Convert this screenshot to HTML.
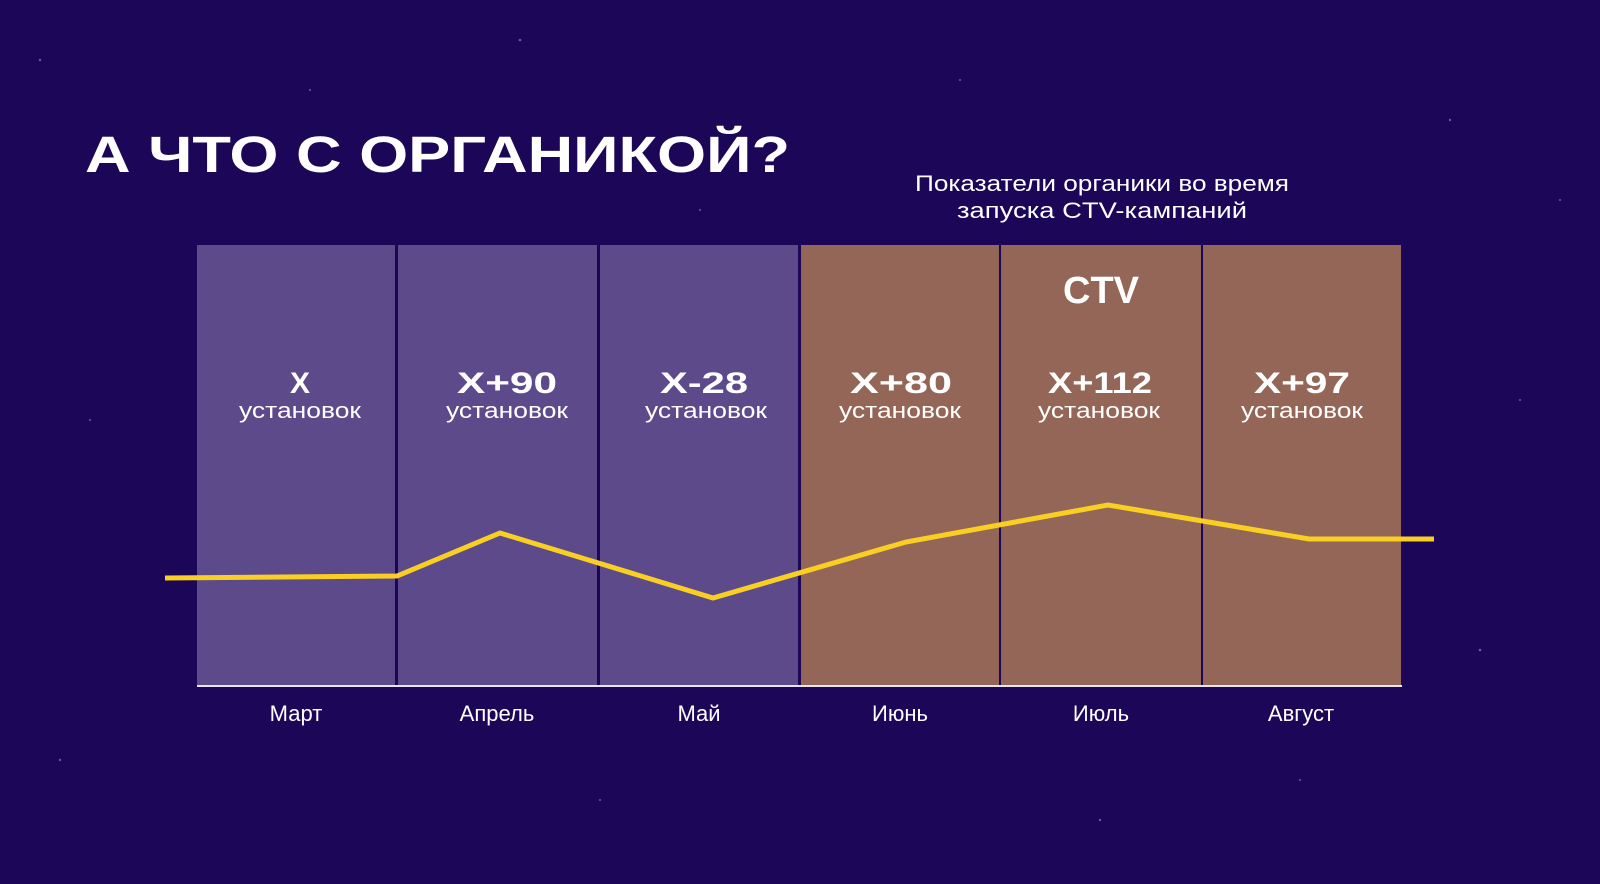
<!DOCTYPE html>
<html><head><meta charset="utf-8"><style>
html,body{margin:0;padding:0;background:#1b0657;}
svg{display:block}
text{font-family:"Liberation Sans","DejaVu Sans",sans-serif;fill:#fff}
</style></head><body>
<svg width="1600" height="884" viewBox="0 0 1600 884" xmlns="http://www.w3.org/2000/svg">
<rect width="1600" height="884" fill="#1b0657"/>
<g fill="#ffffff" opacity="0.35">
<circle cx="40" cy="60" r="1.2"/><circle cx="310" cy="90" r="1"/><circle cx="520" cy="40" r="1.3"/><circle cx="700" cy="210" r="1"/><circle cx="1450" cy="120" r="1.2"/><circle cx="1520" cy="400" r="1"/><circle cx="1480" cy="650" r="1.3"/><circle cx="90" cy="420" r="1"/><circle cx="60" cy="760" r="1.2"/><circle cx="600" cy="800" r="1"/><circle cx="1100" cy="820" r="1.2"/><circle cx="1560" cy="200" r="1"/><circle cx="260" cy="310" r="1.5"/><circle cx="520" cy="520" r="1.3"/><circle cx="960" cy="80" r="1"/><circle cx="1300" cy="780" r="1"/>
</g>
<text x="85" y="172" font-size="51" font-weight="bold" textLength="705" lengthAdjust="spacingAndGlyphs">А ЧТО С ОРГАНИКОЙ?</text>
<text x="1102" y="191" font-size="22" text-anchor="middle" textLength="374" lengthAdjust="spacingAndGlyphs">Показатели органики во время</text>
<text x="1102" y="218" font-size="22" text-anchor="middle" textLength="290" lengthAdjust="spacingAndGlyphs">запуска  CTV-кампаний</text>
<rect x="197" y="245" width="198" height="441" fill="#5c4a8a"/>
<rect x="398" y="245" width="199" height="441" fill="#5c4a8a"/>
<rect x="600" y="245" width="198" height="441" fill="#5c4a8a"/>
<rect x="801" y="245" width="198" height="441" fill="#946657"/>
<rect x="1001" y="245" width="200" height="441" fill="#946657"/>
<rect x="1203" y="245" width="198" height="441" fill="#946657"/>
<rect x="197" y="685" width="1205" height="2" fill="#e8e4f0"/>
<text x="1101" y="303" font-size="38" font-weight="bold" text-anchor="middle" textLength="76" lengthAdjust="spacingAndGlyphs">CTV</text>
<g font-size="30" font-weight="bold" text-anchor="middle">
<text x="300" y="393">X</text>
<text x="507" y="393" textLength="100" lengthAdjust="spacingAndGlyphs">X+90</text>
<text x="704" y="393" textLength="88" lengthAdjust="spacingAndGlyphs">X-28</text>
<text x="901" y="393" textLength="102" lengthAdjust="spacingAndGlyphs">X+80</text>
<text x="1100" y="393" textLength="104" lengthAdjust="spacingAndGlyphs">X+112</text>
<text x="1302" y="393" textLength="96" lengthAdjust="spacingAndGlyphs">X+97</text>
</g>
<g font-size="22" text-anchor="middle">
<text x="300" y="418" textLength="122" lengthAdjust="spacingAndGlyphs">установок</text>
<text x="507" y="418" textLength="122" lengthAdjust="spacingAndGlyphs">установок</text>
<text x="706" y="418" textLength="122" lengthAdjust="spacingAndGlyphs">установок</text>
<text x="900" y="418" textLength="122" lengthAdjust="spacingAndGlyphs">установок</text>
<text x="1099" y="418" textLength="122" lengthAdjust="spacingAndGlyphs">установок</text>
<text x="1302" y="418" textLength="122" lengthAdjust="spacingAndGlyphs">установок</text>
</g>
<g font-size="22" text-anchor="middle">
<text x="296" y="721">Март</text>
<text x="497" y="721">Апрель</text>
<text x="699" y="721">Май</text>
<text x="900" y="721">Июнь</text>
<text x="1101" y="721">Июль</text>
<text x="1301" y="721">Август</text>
</g>
<polyline points="165,578 397,576 500,533 713,598 906,542 1108,505 1309,539 1434,539" fill="none" stroke="#f8cf22" stroke-width="5" stroke-linejoin="miter"/>
</svg>
</body></html>
